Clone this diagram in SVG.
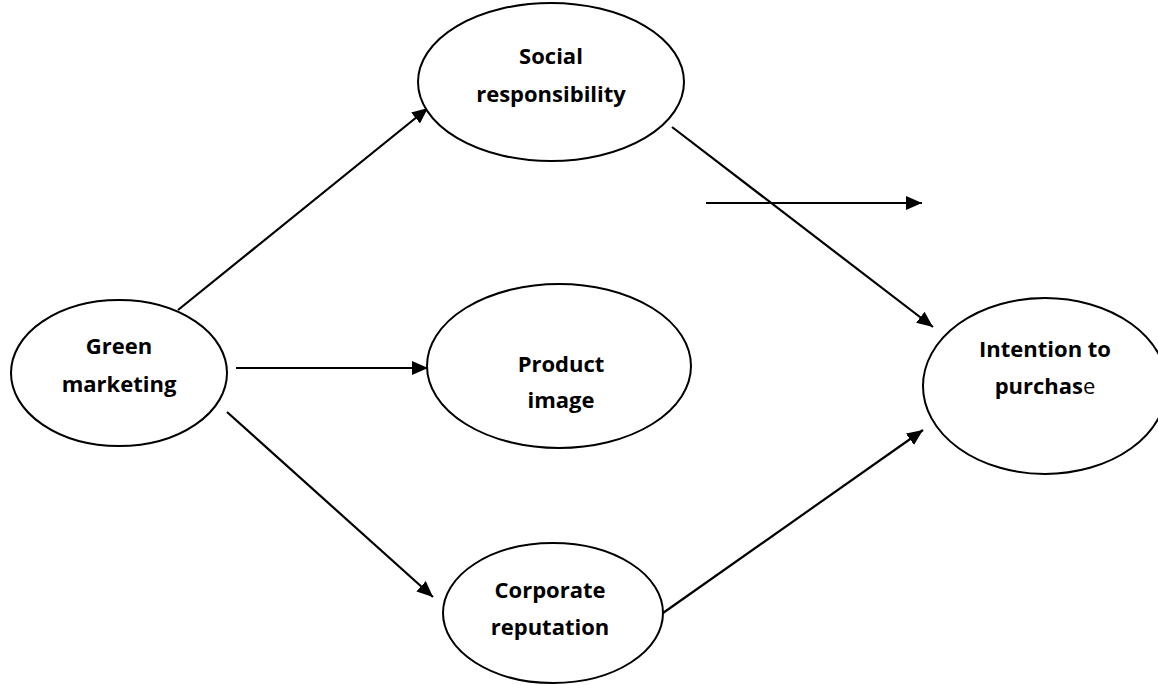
<svg xmlns="http://www.w3.org/2000/svg" width="1158" height="685" viewBox="0 0 1158 685">
<style>
.node{fill:#fff;stroke:#000;stroke-width:2}
.lbl{font-family:"Open Sans","Liberation Sans",sans-serif;font-weight:bold;font-size:22px;fill:#000;text-anchor:middle}
.edge{stroke:#000;stroke-width:2.2;fill:none;marker-end:url(#ah)}
</style>
<defs>
<marker id="ah" markerUnits="userSpaceOnUse" markerWidth="18" markerHeight="14" refX="16" refY="7" orient="auto">
<path d="M0,0 L16,7 L0,14 Z" fill="#000"/>
</marker>
</defs>
<rect width="1158" height="685" fill="#fff"/>
<g id="connectors">
<line class="edge" x1="178" y1="310" x2="428" y2="108"/>
<line class="edge" x1="236" y1="368" x2="428" y2="368"/>
<line class="edge" x1="227" y1="412" x2="433" y2="597"/>
<line class="edge" x1="672" y1="127" x2="933" y2="327"/>
<line class="edge" x1="706" y1="203" x2="922" y2="203"/>
<line class="edge" x1="663" y1="613" x2="923" y2="430"/>
</g>
<g id="green-marketing">
<ellipse class="node" cx="119" cy="373" rx="108" ry="73"/>
<text class="lbl" x="119" y="354">Green</text>
<text class="lbl" x="119" y="392">marketing</text>
</g>
<g id="social-responsibility">
<ellipse class="node" cx="551" cy="82" rx="133" ry="79"/>
<text class="lbl" x="551" y="64">Social</text>
<text class="lbl" x="551" y="102">responsibility</text>
</g>
<g id="product-image">
<ellipse class="node" cx="559" cy="366" rx="132" ry="82"/>
<text class="lbl" x="561" y="372">Product</text>
<text class="lbl" x="561" y="408">image</text>
</g>
<g id="corporate-reputation">
<ellipse class="node" cx="553" cy="613" rx="110" ry="70"/>
<text class="lbl" x="550" y="598">Corporate</text>
<text class="lbl" x="550" y="635">reputation</text>
</g>
<g id="intention-to-purchase">
<ellipse class="node" cx="1045" cy="386" rx="122" ry="88"/>
<text class="lbl" x="1045" y="357">Intention to</text>
<text class="lbl" x="1045" y="394">purchas<tspan font-weight="normal">e</tspan></text>
</g>
</svg>
